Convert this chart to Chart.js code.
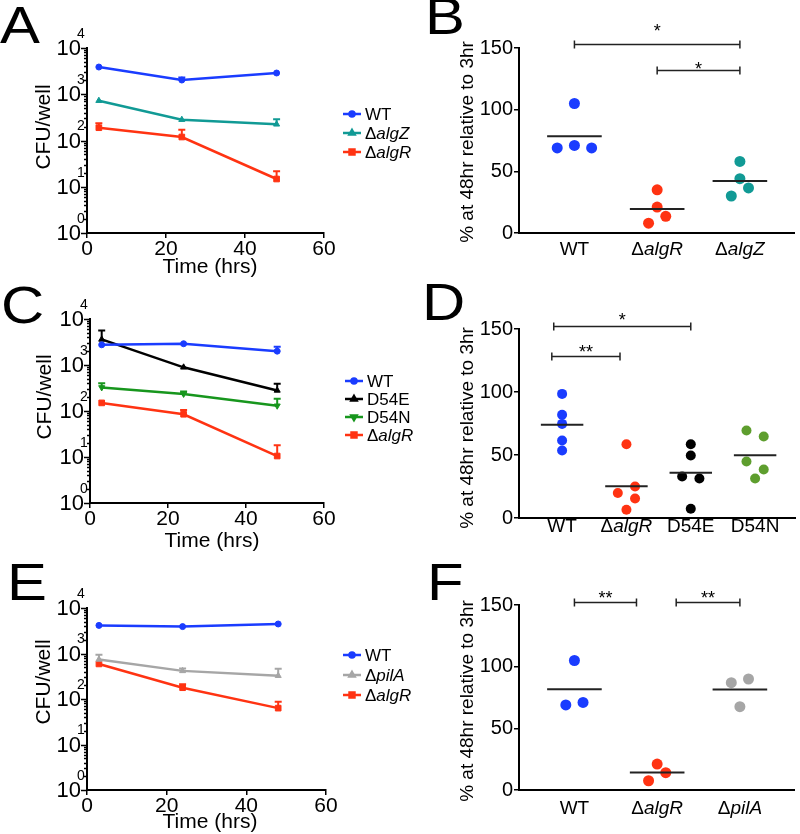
<!DOCTYPE html>
<html>
<head>
<meta charset="utf-8">
<script src="https://cdn.jsdelivr.net/npm/chart.js@4.4.1/dist/chart.umd.min.js"></script>
<style>
  html, body { margin: 0; padding: 0; background: #fff; }
  #fig { position: relative; width: 800px; height: 834px; overflow: hidden; }
  #fig canvas { position: absolute; }
</style>
</head>
<body>
<div id="fig">
  <canvas id="cA"></canvas><canvas id="cB"></canvas>
  <canvas id="cC"></canvas><canvas id="cD"></canvas>
  <canvas id="cE"></canvas><canvas id="cF"></canvas>
</div>
<script>
// ---------- data ----------
const hours = [3, 24, 48];
const timeTicks = [0, 20, 40, 60];
const logTicks = [1, 10, 100, 1000, 10000];
const pctTicks = [0, 50, 100, 150];

// A - CFU/well
const aWT = [3880, 2030, 2880];
const aWTErr = [0, 260, 0];
const aAlgZ = [726, 282, 224];
const aAlgZErr = [0, 0, 64];
const aAlgR = [189, 119, 14.7];
const aAlgRErr = [47, 52, 6.8];

// C - CFU/well
const cWT = [2750, 2900, 2000];
const cWTErr = [0, 0, 500];
const cD54E = [3600, 890, 280];
const cD54EErr = [2000, 0, 110];
const cD54N = [325, 235, 130];
const cD54NErr = [75, 30, 55];
const cAlgR = [150, 85, 10.5];
const cAlgRErr = [0, 20, 7.5];

// E - CFU/well
const eWT = [4150, 3900, 4450];
const ePilA = [740, 415, 325];
const ePilAErr = [200, 55, 135];
const eAlgR = [590, 177, 63];
const eAlgRErr = [0, 33, 24];

// B - % at 48hr relative to 3hr
const bGroups = ['WT', 'ΔalgR', 'ΔalgZ'];
const bValues = [[105, 69, 71, 69], [35, 21, 13.5, 8], [58, 44, 36.5, 30]];
const bLanes = [[0, -2, 0, 2], [0, 0, 1, -1], [0, 0, 1, -1]];
const bBrackets = [[0, 2, 153, '*', 167], [1, 2, 132, '*', 136]];

// D
const dGroups = ['WT', 'ΔalgR', 'D54E', 'D54N'];
const dValues = [[98.5, 82, 74.7, 61.5, 53.6], [58.6, 25, 19.8, 15.5, 6.6],
                 [58.6, 49.6, 33, 31.4, 7.4], [69.4, 64.7, 44.9, 38.5, 31.4]];
const dLanes = [[0, 0, 0, 0, 0], [0, 1, -1, 1, 0], [0, 0, -1, 1, 0], [-1, 1, -1, 1, 0]];
const dBrackets = [[-0.13, 2, 152.6, '*', 160.7], [-0.16, 0.9, 128.3, '**', 135.3]];

// F
const fGroups = ['WT', 'ΔalgR', 'ΔpilA'];
const fValues = [[105, 69, 71], [21, 14, 7.5], [90, 87, 67.6]];
const fLanes = [[0, -1, 1], [0, 1, -1], [1, -1, 0]];
const fBrackets = [[0, 0.75, 152.7, '**', 158.6], [1.23, 2, 152.7, '**', 158.6]];

// ---------- styles ----------
const FONT = '"Liberation Sans", Arial, sans-serif';
const BLUE = '#1a3cff', TEAL = '#119a95', RED = '#ff3312', GREEN = '#17961d',
      GRAY = '#a6a6a6', OLIVE = '#5e9e2e', BLACK = '#000';

// "Δname" -> upright delta + italic gene name
function drawRich(ctx, text, x, y, size, align) {
  const parts = text.startsWith('Δ') ? [['Δ', ''], [text.slice(1), 'italic ']] : [[text, '']];
  const widths = parts.map(([s, st]) => { ctx.font = st + size + 'px ' + FONT; return ctx.measureText(s).width; });
  let cx = align === 'center' ? x - widths.reduce((a, b) => a + b, 0) / 2 : x;
  ctx.textAlign = 'left';
  parts.forEach(([s, st], i) => { ctx.font = st + size + 'px ' + FONT; ctx.fillText(s, cx, y); cx += widths[i]; });
}

function drawLetter(ctx, letter, x, y) {
  ctx.save();
  ctx.fillStyle = '#000';
  ctx.font = '52px ' + FONT;
  ctx.textAlign = 'left';
  ctx.textBaseline = 'alphabetic';
  ctx.translate(x, y);
  ctx.scale(1.15, 1);
  ctx.fillText(letter, 0, 0);
  ctx.restore();
}

function placeCanvas(id, cell, w) {
  const canvas = document.getElementById(id);
  canvas.style.left = cell[0] + 'px';
  canvas.style.top = cell[1] + 'px';
  canvas.width = w;
  canvas.height = 278;
  return canvas;
}

// === Line panels (A, C, E) ===
function logPanel(o) {
  const W = 440;
  const canvas = placeCanvas(o.id, o.cell, W);
  const A = o.area;
  const decor = {
    id: 'decor',
    afterDatasetsDraw(chart) {
      const ctx = chart.ctx, y = chart.scales.y;
      ctx.save();
      ctx.lineWidth = 2;
      o.series.forEach((s, i) => {
        if (!s.err) return;
        const meta = chart.getDatasetMeta(i);
        ctx.strokeStyle = s.color;
        s.err.forEach((e, k) => {
          if (!e) return;
          const p = meta.data[k];
          const top = y.getPixelForValue(s.values[k] + e);
          ctx.beginPath();
          ctx.moveTo(p.x, p.y); ctx.lineTo(p.x, top);
          ctx.moveTo(p.x - 3.5, top); ctx.lineTo(p.x + 3.5, top);
          ctx.stroke();
        });
      });
      ctx.restore();
    },
    afterDraw(chart) {
      const ctx = chart.ctx, y = chart.scales.y;
      ctx.save();
      ctx.strokeStyle = '#000';
      ctx.fillStyle = '#000';
      ctx.lineWidth = 1.5;
      // major + minor log ticks
      logTicks.forEach((d, i) => {
        for (let m = 1; m <= (i < logTicks.length - 1 ? 9 : 1); m++) {
          const py = Math.round(y.getPixelForValue(d * m)) + 0.5;
          const len = m === 1 ? 6 : 3;
          ctx.beginPath(); ctx.moveTo(A.left - len, py); ctx.lineTo(A.left, py); ctx.stroke();
        }
        const py = y.getPixelForValue(d);
        ctx.font = '22px ' + FONT; ctx.textAlign = 'right'; ctx.textBaseline = 'middle';
        ctx.fillText('10', A.left - 6, py + 1);
        ctx.font = '14px ' + FONT; ctx.textAlign = 'left';
        ctx.fillText(String(Math.round(Math.log10(d))), A.left - 10, py - 14);
      });
      // axis titles
      ctx.textBaseline = 'middle';
      ctx.textAlign = 'center';
      ctx.font = '21px ' + FONT;
      ctx.fillText('Time (hrs)', o.timeTitle[0], o.timeTitle[1]);
      ctx.save();
      ctx.translate(o.yTitle[0], o.yTitle[1]);
      ctx.rotate(-Math.PI / 2);
      ctx.fillText('CFU/well', 0, 0);
      ctx.restore();
      // legend
      o.series.forEach((s, i) => {
        const ly = o.legend[1] + i * o.legend[2];
        const lx = o.legend[0];
        ctx.strokeStyle = s.color; ctx.fillStyle = s.color; ctx.lineWidth = 2.5;
        ctx.beginPath(); ctx.moveTo(lx, ly); ctx.lineTo(lx + 18, ly); ctx.stroke();
        Chart.helpers.drawPoint(ctx, { pointStyle: s.style, radius: s.r - 0.5, rotation: s.rot || 0, borderWidth: 1 }, lx + 9, ly);
        ctx.fillStyle = '#000';
        ctx.textBaseline = 'middle';
        drawRich(ctx, s.label, lx + 22, ly + 1, 17, 'left');
      });
      drawLetter(ctx, o.letter, o.letterPos[0], o.letterPos[1]);
      ctx.restore();
    }
  };
  new Chart(canvas, {
    type: 'line',
    data: {
      datasets: o.series.map(s => ({
        label: s.label,
        data: hours.map((h, k) => ({ x: h, y: s.values[k] })),
        borderColor: s.color,
        backgroundColor: s.color,
        borderWidth: 2.5,
        tension: 0,
        pointStyle: s.style,
        pointRadius: s.r,
        pointRotation: s.rot || 0,
        pointBorderWidth: 1
      }))
    },
    options: {
      responsive: false,
      animation: false,
      devicePixelRatio: 1,
      layout: { padding: { left: 0, top: A.top, right: W - A.right, bottom: 0 } },
      plugins: { legend: { display: false }, tooltip: { enabled: false } },
      scales: {
        x: {
          type: 'linear', min: 0, max: 60,
          afterBuildTicks: s => { s.ticks = timeTicks.map(v => ({ value: v })); },
          ticks: { color: '#000', font: { size: 21, family: FONT, lineHeight: 1 }, padding: 1, maxRotation: 0 },
          grid: { drawOnChartArea: false, color: '#000', lineWidth: 1.5, tickLength: 5 },
          border: { color: '#000', width: 2 },
          afterFit: s => { s.height = 278 - A.bottom; }
        },
        y: {
          type: 'logarithmic', min: 1, max: 10000,
          ticks: { display: false, autoSkip: false },
          grid: { display: false },
          border: { color: '#000', width: 2 },
          afterFit: s => { s.width = A.left; }
        }
      }
    },
    plugins: [decor]
  });
}

// === Dot plots (B, D, F) ===
function dotPanel(o) {
  const W = 400;
  const canvas = placeCanvas(o.id, o.cell, W);
  const A = o.area;
  const datasets = [];
  o.groups.forEach((g, i) => {
    const vals = o.values[i];
    const mean = vals.reduce((s, v) => s + v, 0) / vals.length;
    datasets.push({
      type: 'line',
      data: [{ x: i - 0.33, y: mean }, { x: i + 0.33, y: mean }],
      borderColor: '#222', borderWidth: 2, pointRadius: 0, order: 0
    });
    datasets.push({
      data: vals.map((v, k) => ({ x: i + o.lanes[i][k] * o.lane, y: v })),
      backgroundColor: o.colors[i], borderColor: o.colors[i],
      pointRadius: o.dot, pointBorderWidth: 0, order: 1
    });
  });
  const decor = {
    id: 'decor',
    afterDraw(chart) {
      const ctx = chart.ctx, x = chart.scales.x, y = chart.scales.y;
      ctx.save();
      ctx.fillStyle = '#000';
      // category labels
      ctx.textBaseline = 'middle';
      o.groups.forEach((g, i) => drawRich(ctx, g, x.getPixelForValue(i), o.catY, 19, 'center'));
      // y title
      ctx.save();
      ctx.translate(o.yTitle[0], o.yTitle[1]);
      ctx.rotate(-Math.PI / 2);
      ctx.font = '19px ' + FONT; ctx.textAlign = 'center';
      ctx.fillText('% at 48hr relative to 3hr', 0, 0);
      ctx.restore();
      // significance brackets
      ctx.strokeStyle = '#222';
      ctx.lineWidth = 1.5;
      o.brackets.forEach(([from, to, level, label, labelLevel]) => {
        const x1 = x.getPixelForValue(from), x2 = x.getPixelForValue(to);
        const py = Math.round(y.getPixelForValue(level)) + 0.5;
        ctx.beginPath();
        ctx.moveTo(x1, py); ctx.lineTo(x2, py);
        ctx.moveTo(x1, py - 4); ctx.lineTo(x1, py + 4);
        ctx.moveTo(x2, py - 4); ctx.lineTo(x2, py + 4);
        ctx.stroke();
        ctx.font = '18px ' + FONT; ctx.textAlign = 'center'; ctx.textBaseline = 'alphabetic';
        ctx.fillText(label, (x1 + x2) / 2, y.getPixelForValue(labelLevel) + 10);
      });
      drawLetter(ctx, o.letter, o.letterPos[0], o.letterPos[1]);
      ctx.restore();
    }
  };
  new Chart(canvas, {
    type: 'scatter',
    data: { datasets },
    options: {
      responsive: false,
      animation: false,
      devicePixelRatio: 1,
      layout: { padding: { left: 0, top: A.top, right: W - A.right, bottom: 0 } },
      plugins: { legend: { display: false }, tooltip: { enabled: false } },
      scales: {
        x: {
          type: 'linear', min: o.xRange[0], max: o.xRange[1],
          ticks: { display: false },
          grid: { display: false },
          border: { color: '#000', width: 2 },
          afterFit: s => { s.height = 278 - A.bottom; }
        },
        y: {
          min: 0, max: 150,
          afterBuildTicks: s => { s.ticks = pctTicks.map(v => ({ value: v })); },
          ticks: { color: '#000', font: { size: 20, family: FONT }, padding: 1 },
          grid: { drawOnChartArea: false, color: '#000', lineWidth: 1.5, tickLength: 5 },
          border: { color: '#000', width: 2 },
          afterFit: s => { s.width = A.left; }
        }
      }
    },
    plugins: [decor]
  });
}

logPanel({
  id: 'cA', cell: [0, 0], area: { left: 87, right: 324, top: 48, bottom: 233 },
  series: [
    { label: 'WT', values: aWT, err: aWTErr, color: BLUE, style: 'circle', r: 3 },
    { label: 'ΔalgZ', values: aAlgZ, err: aAlgZErr, color: TEAL, style: 'triangle', r: 3.5 },
    { label: 'ΔalgR', values: aAlgR, err: aAlgRErr, color: RED, style: 'rect', r: 4 }
  ],
  legend: [343, 114, 19], yTitle: [44, 127], timeTitle: [210, 267], letter: 'A', letterPos: [0, 43]
});

logPanel({
  id: 'cC', cell: [0, 278], area: { left: 90, right: 324, top: 41, bottom: 225 },
  series: [
    { label: 'WT', values: cWT, err: cWTErr, color: BLUE, style: 'circle', r: 3 },
    { label: 'D54E', values: cD54E, err: cD54EErr, color: BLACK, style: 'triangle', r: 3.5 },
    { label: 'D54N', values: cD54N, err: cD54NErr, color: GREEN, style: 'triangle', r: 3.5, rot: 180 },
    { label: 'ΔalgR', values: cAlgR, err: cAlgRErr, color: RED, style: 'rect', r: 4 }
  ],
  legend: [345, 103, 18], yTitle: [45, 119], timeTitle: [212, 263], letter: 'C', letterPos: [1, 45]
});

logPanel({
  id: 'cE', cell: [0, 556], area: { left: 87, right: 326, top: 52, bottom: 234 },
  series: [
    { label: 'WT', values: eWT, color: BLUE, style: 'circle', r: 3 },
    { label: 'ΔpilA', values: ePilA, err: ePilAErr, color: GRAY, style: 'triangle', r: 3.5 },
    { label: 'ΔalgR', values: eAlgR, err: eAlgRErr, color: RED, style: 'rect', r: 4 }
  ],
  legend: [343, 99, 20], yTitle: [44, 126], timeTitle: [210, 266], letter: 'E', letterPos: [7, 44]
});

dotPanel({
  id: 'cB', cell: [400, 0], area: { left: 119, right: 397, top: 48, bottom: 233 },
  groups: bGroups, values: bValues, lanes: bLanes, brackets: bBrackets,
  colors: [BLUE, RED, TEAL], lane: 0.104, dot: 5.5, xRange: [-0.67, 2.66],
  catY: 250, yTitle: [68, 142], letter: 'B', letterPos: [25, 34]
});

dotPanel({
  id: 'cD', cell: [400, 278], area: { left: 119, right: 397, top: 51, bottom: 240 },
  groups: dGroups, values: dValues, lanes: dLanes, brackets: dBrackets,
  colors: [BLUE, RED, BLACK, OLIVE], lane: 0.134, dot: 5, xRange: [-0.67, 3.62],
  catY: 249, yTitle: [68, 150], letter: 'D', letterPos: [22, 42]
});

dotPanel({
  id: 'cF', cell: [400, 556], area: { left: 119, right: 397, top: 49, bottom: 234 },
  groups: fGroups, values: fValues, lanes: fLanes, brackets: fBrackets,
  colors: [BLUE, RED, GRAY], lane: 0.104, dot: 5.5, xRange: [-0.67, 2.66],
  catY: 253, yTitle: [68, 145], letter: 'F', letterPos: [27, 44]
});
</script>
</body>
</html>
